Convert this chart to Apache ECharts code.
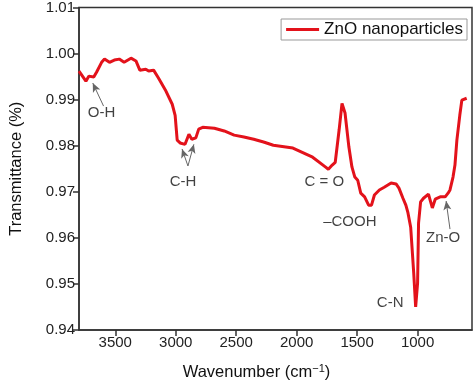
<!DOCTYPE html>
<html>
<head>
<meta charset="utf-8">
<script src="https://cdn.jsdelivr.net/npm/echarts@6/dist/echarts.min.js"></script>
<style>html,body{margin:0;padding:0;background:#fff}#c{width:474px;height:389px}</style>
</head>
<body>
<div id="c"></div>
<script>
var wavenumbers = [3800,3743,3719,3678,3654,3613,3589,3548,3508,3467,3427,3370,3329,3297,3248,3224,3183,3143,3086,3029,3005,2988,2964,2923,2891,2867,2834,2810,2777,2680,2599,2517,2436,2355,2274,2193,2031,1868,1763,1738,1706,1681,1649,1625,1600,1568,1543,1519,1495,1470,1438,1405,1381,1357,1316,1276,1219,1178,1154,1121,1097,1081,1057,1032,1016,1000,992,975,951,910,878,854,813,772,748,732,707,691,675,651,634,594];
var transmittance = [0.9962,0.9940,0.9951,0.9949,0.9960,0.9981,0.9988,0.9981,0.9986,0.9988,0.9981,0.9990,0.9984,0.9964,0.9966,0.9962,0.9964,0.9947,0.9921,0.9890,0.9866,0.9812,0.9806,0.9803,0.9825,0.9814,0.9817,0.9836,0.9840,0.9838,0.9832,0.9823,0.9819,0.9814,0.9808,0.9801,0.9795,0.9775,0.9754,0.9749,0.9758,0.9764,0.9834,0.9892,0.9871,0.9797,0.9754,0.9732,0.9725,0.9697,0.9689,0.9671,0.9671,0.9693,0.9704,0.9710,0.9719,0.9717,0.9708,0.9686,0.9671,0.9656,0.9623,0.9524,0.9450,0.9502,0.9632,0.9678,0.9686,0.9695,0.9665,0.9684,0.9689,0.9689,0.9697,0.9704,0.9732,0.9758,0.9812,0.9866,0.9899,0.9903];
var xTicks = [1000,1500,2000,2500,3000,3500];
var annotationLabels = ['O-H','C-H','C = O','\u2013COOH','C-N','Zn-O'];
var annotationX = [3613,2940,1771,1560,1227,789];
var annotationY = [0.9871,0.9721,0.9721,0.9634,0.9459,0.9600];
// arrows: [fromX, fromY, toX, toY]
var arrowFromX = [3597,2899,2899,732];
var arrowFromY = [0.9886,0.9756,0.9756,0.9619];
var arrowToX = [3686,2948,2850,764];
var arrowToY = [0.9936,0.9793,0.9803,0.9680];

var seriesName = 'ZnO nanoparticles';
var lineData = wavenumbers.map(function(w,i){return [w, transmittance[i]];});
var annData = annotationLabels.map(function(t,i){return {name:t, value:[annotationX[i], annotationY[i]]};});
var arrowData = arrowFromX.map(function(x,i){
  return [{coord:[x, arrowFromY[i]]},{coord:[arrowToX[i], arrowToY[i]]}];
});

var font = 'Liberation Sans, Arial, sans-serif';
var chart = echarts.init(document.getElementById('c'), null, {renderer:'canvas'});
chart.setOption({
  animation:false,
  grid:{left:72, right:2, top:7, bottom:59, show:true, borderColor:'#333', borderWidth:1.5, backgroundColor:'transparent'},
  legend:{
    data:[{name:seriesName, icon:'rect'}], right:7, top:19, itemWidth:33, itemHeight:3, itemGap:8,
    padding:[2,4,2,5], borderColor:'#999', borderWidth:1, borderRadius:0,
    textStyle:{fontFamily:font, fontSize:17, color:'#111'}
  },
  xAxis:{
    type:'value', inverse:true, min:550, max:3800,
    name:'Wavenumber (cm{sup|\u22121})', nameLocation:'middle', nameGap:33,
    nameTextStyle:{fontFamily:font, fontSize:16.5, color:'#111', padding:[0,38,0,0],
      rich:{sup:{fontSize:11, verticalAlign:'top', padding:[0,0,8,0], fontFamily:font, color:'#111'}}},
    axisLine:{lineStyle:{color:'#333', width:1.5}},
    axisTick:{show:true, length:6, customValues:xTicks, lineStyle:{color:'#333', width:1.5}},
    axisLabel:{customValues:xTicks, fontFamily:font, fontSize:15, color:'#222', margin:5,
      formatter:function(v){return String(v);}},
    splitLine:{show:false}
  },
  yAxis:{
    type:'value', min:0.94, max:1.01, interval:0.01,
    name:'Transmittance (%)', nameLocation:'middle', nameGap:54,
    nameTextStyle:{fontFamily:font, fontSize:16.5, color:'#111'},
    axisLine:{show:true, lineStyle:{color:'#333', width:1.5}},
    axisTick:{show:true, length:6, lineStyle:{color:'#333', width:1.5}},
    axisLabel:{fontFamily:font, fontSize:15, color:'#222', margin:4,
      formatter:function(v){return v.toFixed(2);}},
    splitLine:{show:false}
  },
  series:[
    {
      name:seriesName, type:'line', data:lineData, showSymbol:false, smooth:false,
      lineStyle:{color:'#e3121b', width:3}, itemStyle:{color:'#e3121b'},
      z:3,
      markLine:{
        silent:true, symbol:['none','arrow'], symbolSize:[6,9],
        label:{show:false},
        lineStyle:{color:'#666', width:1, type:'solid'},
        data:arrowData
      }
    },
    {
      name:'labels', type:'scatter', data:annData, symbolSize:0, silent:true,
      label:{show:true, position:'inside', formatter:'{b}', fontFamily:font, fontSize:15, color:'#111'}
    }
  ]
});
</script>
</body>
</html>
